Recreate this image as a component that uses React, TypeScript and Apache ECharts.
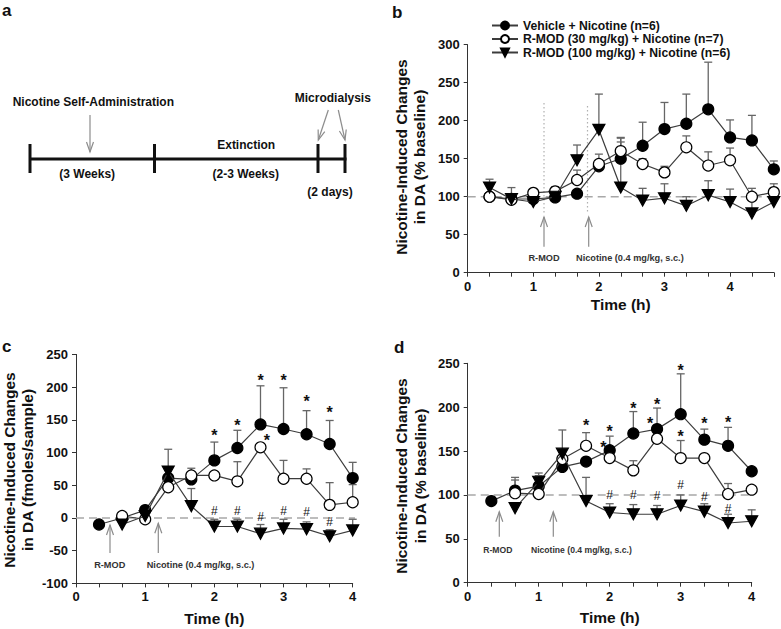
import React, { useEffect, useRef } from 'react';
import * as echarts from 'echarts';

const FONT = '"Liberation Sans", Arial, Helvetica, sans-serif';

const NAMES = [
  'Vehicle + Nicotine (n=6)',
  'R-MOD (30 mg/kg) + Nicotine (n=7)',
  'R-MOD (100 mg/kg) + Nicotine (n=6)',
];

// ---- Panel b (% baseline) ----
const timesB = [0.333, 0.667, 1, 1.333, 1.667, 2, 2.333, 2.667, 3, 3.333, 3.667, 4, 4.333, 4.667];
const vehicleB = [100, 97, 97, 99, 104, 140, 150, 167, 189, 196, 215, 178, 174, 136];
const vehicleErrB = [0, 0, 0, 4, 0, 0, 27, 31, 35, 39, 62, 23, 33, 11];
const r30B = [100, 96, 105, 107, 122, 143, 160, 143, 132, 165, 141, 148, 100, 106];
const r30ErrB = [0, 0, 0, 6, 13, 13, 18, 7, 8, 15, 18, 16, 11, 11];
const r100B = [112, 97, 93, 100, 148, 188, 112, 95, 98, 88, 102, 93, 78, 93];
const r100ErrB = [11, 15, 8, 8, 20, 47, 60, 16, 19, 12, 19, 17, 20, 16];

// ---- Panel c (fmoles/sample) ----
const timesCD = [0.333, 0.667, 1, 1.333, 1.667, 2, 2.333, 2.667, 3, 3.333, 3.667, 4];
const vehicleC = [-10, 0, 12, 61, 59, 88, 107, 143, 136, 128, 113, 61];
const vehicleErrC = [0, 0, 0, 0, 0, 28, 27, 59, 63, 36, 36, 24];
const r30C = [null, 3, -2, 47, 65, 65, 56, 108, 60, 60, 20, 24];
const r30ErrC = [0, 0, 0, 0, 11, 0, 30, 0, 28, 15, 34, 27];
const r100C = [null, -10, 3, 71, 18, -13, -13, -24, -16, -17, -28, -19];
const r100ErrC = [0, 0, 0, 34, 27, 11, 11, 14, 14, 11, 10, 17];
const starsC = [[2, 131], [2.333, 147], [2.667, 216], [3, 216], [3.333, 183], [3.667, 166], [2.76, 123]];
const hashC = [[2, 11], [2.333, 11], [2.667, 2], [3, 11], [3.333, 9], [3.667, -6]];

// ---- Panel d (% baseline) ----
const vehicleD = [93, 105, 110, 132, 138, 151, 170, 175, 192, 163, 156, 127];
const vehicleErrD = [0, 15, 12, 0, 0, 16, 25, 24, 46, 12, 21, 0];
const r30D = [null, 102, 101, 141, 156, 142, 128, 164, 142, 142, 101, 106];
const r30ErrD = [0, 15, 10, 0, 15, 0, 11, 0, 20, 0, 12, 0];
const r100D = [null, 85, 115, 147, 93, 80, 78, 78, 88, 81, 68, 70];
const r100ErrD = [0, 0, 10, 27, 27, 10, 11, 10, 12, 9, 10, 13];
const starsD = [[1.667, 183], [1.91, 158], [2, 176], [2.333, 203], [2.57, 185], [2.667, 207], [3, 246], [3, 171], [3.333, 185], [3.667, 186]];
const hashD = [[2, 100], [2.333, 100], [2.667, 99], [3, 111], [3.333, 98], [3.667, 84]];

// ---- Axes ----
const xTickLabels = [0, 1, 2, 3, 4];
const yTicksB = [0, 50, 100, 150, 200, 250, 300];
const yTicksC = [-100, -50, 0, 50, 100, 150, 200, 250];
const yTicksD = [0, 50, 100, 150, 200, 250];
const baselineB = 100;
const baselineC = 0;
const baselineD = 100;

const TXT = '#111';
const LINE = '#3c3c3c';
const ERR = '#666';
const ARROW = '#8c8c8c';

const TRI = 'path://M0,0L10,0L5,9Z';

function pts(times: number[], vals: (number | null)[]) {
  return times.map((t, i) => [t, vals[i]]).filter((d) => d[1] !== null);
}

function lineSeries(name: string, gi: number, times: number[], vals: (number | null)[], kind: number) {
  const symbol = kind === 2 ? TRI : 'circle';
  const color = kind === 1 ? '#fff' : '#000';
  return {
    name,
    type: 'line',
    xAxisIndex: gi,
    yAxisIndex: gi,
    data: pts(times, vals),
    symbol,
    symbolSize: kind === 2 ? [12, 11] : 11,
    showAllSymbol: true,
    itemStyle: { color, borderColor: '#000', borderWidth: 1.2 },
    lineStyle: { color: LINE, width: 1.2 },
    z: 3 + kind * 0.1,
    silent: true,
    clip: false,
  };
}

function errSeries(gi: number, times: number[], vals: (number | null)[], errs: number[]) {
  return {
    type: 'custom',
    xAxisIndex: gi,
    yAxisIndex: gi,
    z: 2,
    silent: true,
    clip: false,
    data: times.map((t, i) => [t, vals[i], errs[i]]).filter((d) => d[1] !== null && (d[2] as number) > 0),
    encode: { x: 0, y: 1 },
    renderItem: (_p: any, api: any) => {
      const x = api.value(0);
      const y = api.value(1);
      const e = api.value(2);
      const a = api.coord([x, y]);
      const b = api.coord([x, y + e]);
      const st = { stroke: ERR, lineWidth: 1.3 };
      return {
        type: 'group',
        children: [
          { type: 'line', shape: { x1: a[0], y1: a[1], x2: b[0], y2: b[1] }, style: st },
          { type: 'line', shape: { x1: b[0] - 4, y1: b[1], x2: b[0] + 4, y2: b[1] }, style: st },
        ],
      };
    },
  };
}

function markSeries(gi: number, data: number[][], ch: string, font: string, dy: number) {
  return {
    type: 'custom',
    xAxisIndex: gi,
    yAxisIndex: gi,
    z: 6,
    silent: true,
    clip: false,
    data,
    encode: { x: 0, y: 1 },
    renderItem: (_p: any, api: any) => {
      const p = api.coord([api.value(0), api.value(1)]);
      return {
        type: 'text',
        x: p[0],
        y: p[1] + dy,
        style: { text: ch, font, fill: TXT, align: 'center', verticalAlign: 'middle', textAlign: 'center', textVerticalAlign: 'middle' },
      };
    },
  };
}

function baseSeries(gi: number, y: number, xEnd: number) {
  return {
    type: 'line',
    xAxisIndex: gi,
    yAxisIndex: gi,
    data: [[0, y], [xEnd, y]],
    symbol: 'none',
    silent: true,
    clip: false,
    z: 1,
    lineStyle: { color: '#a8a8a8', width: 1.6, type: [8, 5] },
  };
}

function xAxis(gi: number, max: number, nameGap: number) {
  return {
    gridIndex: gi,
    type: 'value',
    min: 0,
    max,
    interval: 1 / 3,
    axisLine: { show: true, onZero: false, lineStyle: { color: '#333', width: 1 } },
    axisTick: { show: true, length: 4, lineStyle: { color: '#333' } },
    splitLine: { show: false },
    axisLabel: {
      margin: 7,
      fontFamily: FONT,
      fontWeight: 'bold',
      fontSize: 13,
      color: TXT,
      formatter: (v: number) => {
        const r = Math.round(v);
        return Math.abs(v - r) < 1e-6 && xTickLabels.includes(r) ? String(r) : '';
      },
    },
    name: 'Time (h)',
    nameLocation: 'middle',
    nameGap,
    nameTextStyle: { fontFamily: FONT, fontWeight: 'bold', fontSize: 15.5, color: TXT },
  };
}

function yAxis(gi: number, ticks: number[]) {
  return {
    gridIndex: gi,
    type: 'value',
    min: ticks[0],
    max: ticks[ticks.length - 1],
    interval: ticks[1] - ticks[0],
    axisLine: { show: true, onZero: false, lineStyle: { color: '#333', width: 1 } },
    axisTick: { show: true, length: 4, lineStyle: { color: '#333' } },
    splitLine: { show: false },
    axisLabel: { margin: 8, fontFamily: FONT, fontWeight: 'bold', fontSize: 13, color: TXT },
  };
}

function arrowEls(x1: number, y1: number, x2: number, y2: number, head = 10, half = 3.5) {
  const dx = x2 - x1;
  const dy = y2 - y1;
  const len = Math.hypot(dx, dy);
  const ux = dx / len;
  const uy = dy / len;
  const bx = x2 - ux * head;
  const by = y2 - uy * head;
  const px = -uy;
  const py = ux;
  return [
    { type: 'line', silent: true, shape: { x1, y1, x2, y2 }, style: { stroke: ARROW, lineWidth: 1.2 } },
    {
      type: 'polyline',
      silent: true,
      shape: { points: [[bx + px * half, by + py * half], [x2, y2], [bx - px * half, by - py * half]] },
      style: { stroke: ARROW, lineWidth: 1.2, fill: 'none' },
    },
  ];
}

function text(x: number, y: number, s: string, font: string, align = 'center', fill = TXT, rotation = 0) {
  return {
    type: 'text',
    silent: true,
    x,
    y,
    rotation,
    style: { text: s, font, fill, align, verticalAlign: 'middle', textAlign: align, textVerticalAlign: 'middle' },
  };
}

function buildGraphic() {
  const els: any[] = [];
  const fA = `bold 12px ${FONT}`;
  const fTitle = `bold 15.5px ${FONT}`;
  // panel letters
  els.push(text(2, 10, 'a', `bold 17px ${FONT}`, 'left'));
  els.push(text(392, 12, 'b', `bold 17px ${FONT}`, 'left'));
  els.push(text(2, 346, 'c', `bold 17px ${FONT}`, 'left'));
  els.push(text(394, 347.5, 'd', `bold 17px ${FONT}`, 'left'));

  // panel a timeline
  els.push({ type: 'line', silent: true, shape: { x1: 30, y1: 159, x2: 346.5, y2: 159 }, style: { stroke: '#111', lineWidth: 3 } });
  [30, 154.5, 318, 345].forEach((x) => {
    els.push({ type: 'line', silent: true, shape: { x1: x, y1: 144, x2: x, y2: 173 }, style: { stroke: '#111', lineWidth: 3 } });
  });
  els.push(text(93.3, 101.7, 'Nicotine Self-Administration', fA));
  els.push(text(87.2, 174.3, '(3 Weeks)', fA));
  els.push(text(246.2, 145, 'Extinction', fA));
  els.push(text(245.7, 174, '(2-3 Weeks)', fA));
  els.push(text(332.8, 98.3, 'Microdialysis', fA));
  els.push(text(330, 191.7, '(2 days)', fA));
  els.push(...arrowEls(90, 115, 90, 152));
  els.push(...arrowEls(328.3, 110, 318.3, 140));
  els.push(...arrowEls(338.3, 110, 345, 140));

  // y-axis titles
  const rot = Math.PI / 2;
  els.push(text(401, 157, 'Nicotine-Induced Changes', fTitle, 'center', TXT, rot));
  els.push(text(419.5, 157, 'in DA (% baseline)', fTitle, 'center', TXT, rot));
  els.push(text(9, 470, 'Nicotine-Induced Changes', fTitle, 'center', TXT, rot));
  els.push(text(27, 470, 'in DA (fmoles/sample)', fTitle, 'center', TXT, rot));
  els.push(text(401, 476, 'Nicotine-Induced Changes', fTitle, 'center', TXT, rot));
  els.push(text(420, 476, 'in DA (% baseline)', fTitle, 'center', TXT, rot));

  // panel b annotations
  const dot = { stroke: '#b0b0b0', lineWidth: 1.2, lineDash: [1.5, 2.5] };
  els.push({ type: 'line', silent: true, shape: { x1: 544, y1: 103, x2: 544, y2: 213 }, style: dot });
  els.push({ type: 'line', silent: true, shape: { x1: 587.5, y1: 106, x2: 587.5, y2: 213 }, style: dot });
  els.push(...arrowEls(544, 246.7, 544, 217));
  els.push(...arrowEls(588.7, 246.7, 588.7, 217));
  const fs = `bold 9.2px ${FONT}`;
  els.push(text(544, 258, 'R-MOD', fs, 'center', '#333'));
  els.push(text(576, 258, 'Nicotine (0.4 mg/kg, s.c.)', fs, 'left', '#333'));

  // panel c annotations
  els.push(...arrowEls(110, 553, 110, 525));
  els.push(...arrowEls(158.3, 553, 158.3, 523.3));
  els.push(text(109.7, 565, 'R-MOD', fs, 'center', '#333'));
  els.push(text(146.7, 565, 'Nicotine (0.4 mg/kg, s.c.)', fs, 'left', '#333'));

  // panel d annotations
  const fs2 = `bold 8.6px ${FONT}`;
  els.push(...arrowEls(499.3, 536.7, 499.3, 511.7));
  els.push(...arrowEls(553.3, 536.7, 553.3, 511.7));
  els.push(text(497.8, 550, 'R-MOD', fs2, 'center', '#333'));
  els.push(text(531, 550, 'Nicotine (0.4 mg/kg, s.c.)', fs2, 'left', '#333'));
  return els;
}

function buildOption() {
  const starFont = `bold 16px ${FONT}`;
  const hashFont = `12px ${FONT}`;
  return {
    animation: false,
    backgroundColor: '#fff',
    textStyle: { fontFamily: FONT },
    grid: [
      { left: 467.7, top: 44.7, width: 306.1, height: 228 },
      { left: 76, top: 354.4, width: 276.7, height: 229 },
      { left: 467.7, top: 363.3, width: 284, height: 219.4 },
    ],
    xAxis: [xAxis(0, 14 / 3, 24), xAxis(1, 4, 27), xAxis(2, 4, 27)],
    yAxis: [yAxis(0, yTicksB), yAxis(1, yTicksC), yAxis(2, yTicksD)],
    legend: {
      data: NAMES,
      orient: 'vertical',
      left: 486,
      top: 14,
      itemGap: 0.5,
      itemWidth: 26,
      itemHeight: 10,
      selectedMode: false,
      textStyle: { fontFamily: FONT, fontWeight: 'bold', fontSize: 12.2, color: TXT, lineHeight: 13 },
    },
    series: [
      baseSeries(0, baselineB, 4.73),
      baseSeries(1, baselineC, 4.2),
      baseSeries(2, baselineD, 4.16),
      errSeries(0, timesB, vehicleB, vehicleErrB),
      errSeries(0, timesB, r30B, r30ErrB),
      errSeries(0, timesB, r100B, r100ErrB),
      errSeries(1, timesCD, vehicleC, vehicleErrC),
      errSeries(1, timesCD, r30C, r30ErrC),
      errSeries(1, timesCD, r100C, r100ErrC),
      errSeries(2, timesCD, vehicleD, vehicleErrD),
      errSeries(2, timesCD, r30D, r30ErrD),
      errSeries(2, timesCD, r100D, r100ErrD),
      lineSeries(NAMES[0], 0, timesB, vehicleB, 0),
      lineSeries(NAMES[1], 0, timesB, r30B, 1),
      lineSeries(NAMES[2], 0, timesB, r100B, 2),
      lineSeries(NAMES[0], 1, timesCD, vehicleC, 0),
      lineSeries(NAMES[1], 1, timesCD, r30C, 1),
      lineSeries(NAMES[2], 1, timesCD, r100C, 2),
      lineSeries(NAMES[0], 2, timesCD, vehicleD, 0),
      lineSeries(NAMES[1], 2, timesCD, r30D, 1),
      lineSeries(NAMES[2], 2, timesCD, r100D, 2),
      markSeries(1, starsC, '*', starFont, 3.5),
      markSeries(1, hashC, '#', hashFont, 0),
      markSeries(2, starsD, '*', starFont, 3.5),
      markSeries(2, hashD, '#', hashFont, 0),
    ],
    graphic: buildGraphic(),
  };
}

export default function App() {
  const ref = useRef<HTMLDivElement>(null);
  useEffect(() => {
    if (!ref.current) return;
    const chart = echarts.init(ref.current, null, { renderer: 'svg' });
    chart.setOption(buildOption() as any);
    return () => chart.dispose();
  }, []);
  return (
    <div
      ref={ref}
      style={{ position: 'absolute', left: 0, top: 0, width: 781, height: 629, background: '#fff' }}
    />
  );
}
